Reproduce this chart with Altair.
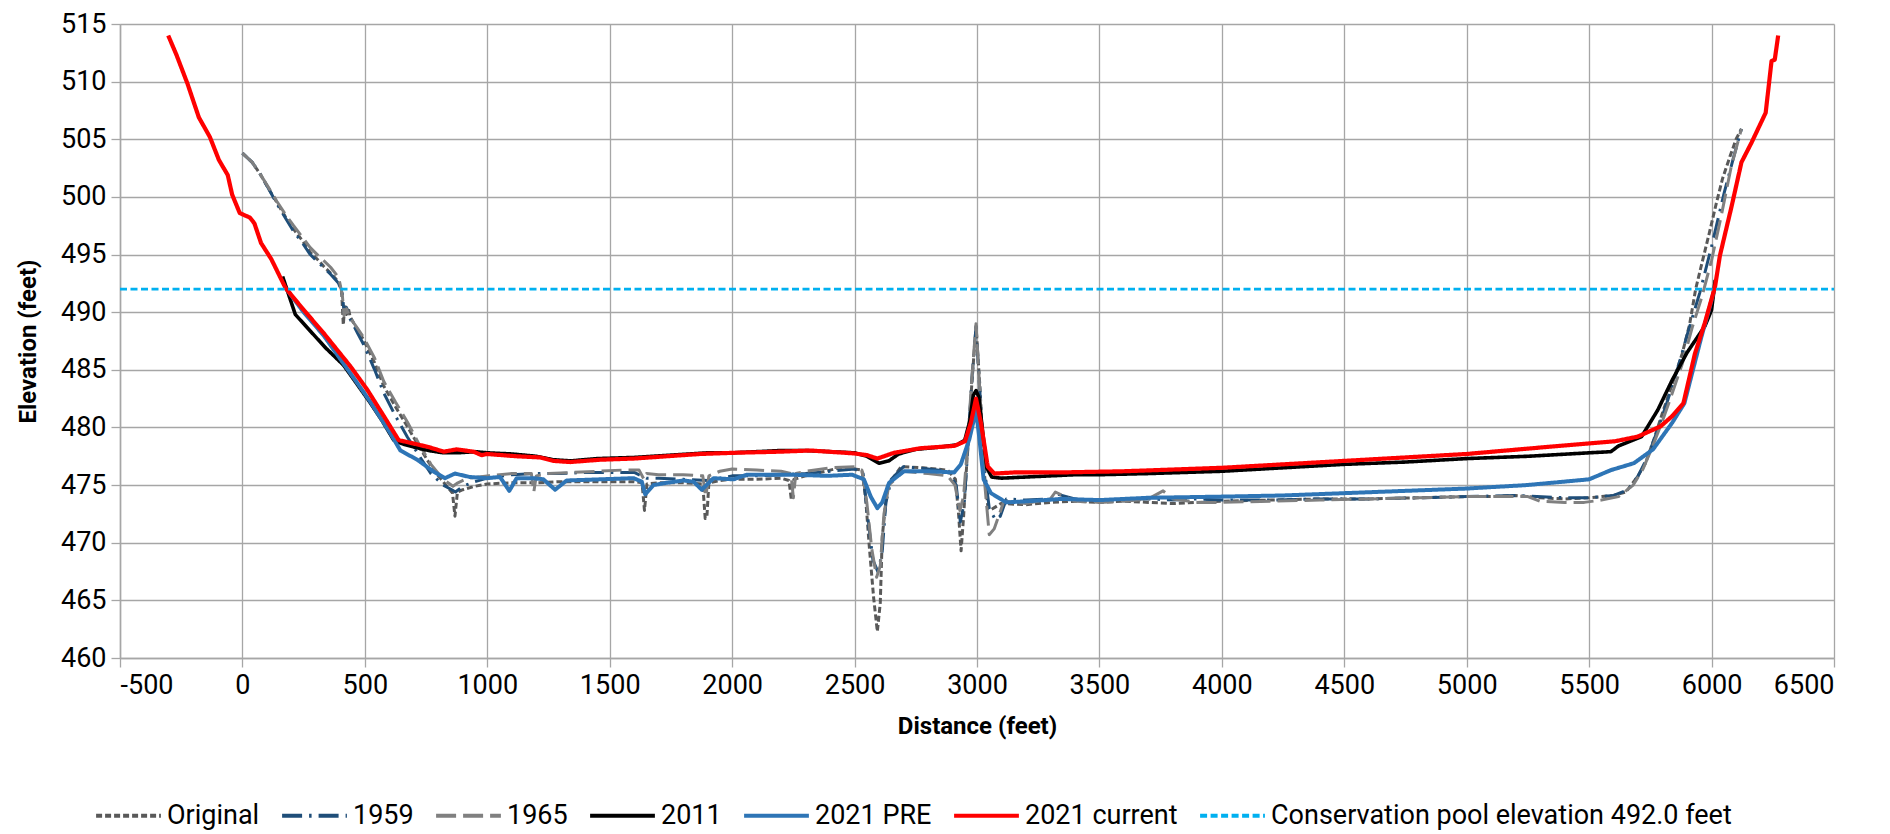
import altair as alt
import pandas as pd

FONT = "Roboto"

# Survey cross-section profiles: distance (feet) and elevation (feet)
orig_d = [0, 40, 72, 110, 141, 175, 209, 245, 277, 310, 331, 360, 393, 405, 412, 418, 425, 432, 440, 470,
          495, 540, 577, 625, 673, 720, 760, 800, 835, 858, 868, 878, 900, 950, 1000, 1100, 1200, 1300, 1400,
          1500, 1600, 1632, 1642, 1652, 1700, 1800, 1880, 1890, 1897, 1905, 1950, 2000, 2100, 2200, 2232,
          2242, 2252, 2300, 2400, 2440, 2500, 2530, 2545, 2560, 2578, 2593, 2605, 2613, 2634, 2690, 2780,
          2880, 2912, 2925, 2935, 2945, 2960, 2978, 2996, 3012, 3030, 3045, 3060, 3098, 3200, 3300, 3400,
          3500, 3600, 3700, 3800, 3900, 4000, 4200, 4400, 4600, 4800, 5000, 5100, 5200, 5300, 5400, 5500,
          5600, 5650, 5700, 5730, 5765, 5800, 5840, 5880, 5910, 5935, 5960, 5990, 6020, 6045, 6075, 6100, 6122]
orig_e = [503.8, 503.0, 502.0, 500.6, 499.5, 498.3, 497.2, 496.2, 495.2, 494.5, 494.0, 493.4, 492.6, 491.8,
          488.9, 490.6, 489.8, 490.4, 489.6, 488.5, 487.6, 485.6, 483.6, 481.8, 480.1, 478.4, 477.0, 475.8,
          474.9, 474.3, 472.3, 474.4, 474.6, 474.9, 475.1, 475.2, 475.2, 475.3, 475.3, 475.3, 475.3, 475.2,
          472.8, 475.1, 475.2, 475.2, 475.1, 472.1, 472.3, 475.2, 475.4, 475.5, 475.5, 475.6, 475.4, 473.7,
          475.5, 475.8, 476.3, 476.5, 476.4, 476.3, 473.9, 469.7, 465.2, 462.3, 464.8, 470.5, 474.9, 476.6,
          476.5, 476.3, 475.5, 472.4, 469.3, 472.2, 477.5, 483.5, 488.8, 483.5, 476.0, 473.0, 472.9, 473.4,
          473.3, 473.5, 473.6, 473.5, 473.6, 473.5, 473.4, 473.5, 473.6, 473.7, 473.8, 473.8, 473.9, 474.0,
          474.0, 474.1, 473.9, 473.8, 473.9, 474.1, 474.4, 475.8, 476.9, 479.0, 481.3, 483.8, 486.4, 488.9,
          492.0, 494.2, 496.8, 499.5, 501.6, 503.5, 505.0, 505.9]

y1959_d = [0, 40, 72, 110, 141, 175, 209, 245, 277, 310, 331, 360, 393, 408, 415, 425, 440, 470, 495, 540,
           577, 625, 673, 720, 770, 820, 855, 870, 900, 950, 1000, 1100, 1200, 1300, 1400, 1500, 1600, 1650,
           1700, 1800, 1900, 2000, 2100, 2200, 2300, 2400, 2500, 2535, 2555, 2575, 2595, 2612, 2628, 2650,
           2700, 2800, 2880, 2915, 2932, 2948, 2962, 2980, 2996, 3012, 3030, 3050, 3075, 3095, 3120, 3200,
           3300, 3330, 3400, 3500, 3600, 3700, 3800, 3900, 4000, 4200, 4400, 4600, 4800, 5000, 5200, 5400,
           5500, 5600, 5660, 5700, 5740, 5780, 5820, 5860, 5900, 5952, 6000, 6052, 6092, 6122]
y1959_e = [503.8, 503.0, 502.0, 500.6, 499.4, 498.2, 497.0, 496.0, 495.0, 494.3, 493.9, 493.3, 492.5, 491.6,
           490.0, 490.4, 489.4, 488.2, 487.2, 485.0, 483.0, 481.0, 479.2, 477.6, 476.0, 475.0, 474.6, 474.4,
           474.9, 475.3, 475.6, 475.9, 476.0, 476.0, 476.1, 476.1, 476.1, 475.6, 475.6, 475.5, 475.4, 475.8,
           475.8, 475.9, 476.0, 476.2, 476.4, 476.0, 472.0, 468.5, 467.5, 469.0, 473.5, 475.5, 476.6, 476.4,
           476.2, 475.0, 471.8, 473.5, 478.0, 484.5, 488.7, 483.0, 476.5, 473.0, 472.0, 472.3, 473.8, 473.7,
           473.8, 474.2, 473.8, 473.7, 473.8, 473.8, 473.7, 473.8, 473.7, 473.7, 473.8, 473.8, 473.9, 474.0,
           474.1, 473.9, 473.9, 474.1, 474.6, 475.8, 477.5, 479.8, 482.3, 485.0, 488.0, 491.7, 495.7, 500.4,
           503.6, 505.9]

y1965_d = [0, 40, 72, 110, 141, 175, 209, 245, 277, 310, 331, 360, 393, 408, 415, 425, 440, 470, 495, 540,
           577, 625, 673, 720, 770, 820, 860, 880, 920, 1000, 1100, 1180, 1190, 1200, 1250, 1350, 1450, 1550,
           1620, 1640, 1650, 1700, 1800, 1880, 1892, 1905, 1950, 2000, 2100, 2200, 2240, 2250, 2260, 2300,
           2400, 2500, 2530, 2550, 2570, 2590, 2605, 2620, 2640, 2700, 2800, 2880, 2910, 2930, 2945, 2960,
           2978, 2996, 3012, 3030, 3050, 3070, 3110, 3200, 3300, 3320, 3400, 3500, 3600, 3700, 3760, 3800,
           3900, 4000, 4200, 4400, 4600, 4800, 5000, 5200, 5250, 5300, 5400, 5480, 5550, 5620, 5680, 5720,
           5760, 5800, 5840, 5880, 5920, 5960, 6000, 6040, 6080, 6122]
y1965_e = [503.8, 503.0, 502.0, 500.7, 499.6, 498.5, 497.5, 496.5, 495.6, 494.9, 494.5, 493.9, 493.0, 491.5,
           489.7, 490.3, 489.5, 488.6, 487.8, 486.0, 484.0, 482.2, 480.5, 478.6, 476.8, 475.5, 474.9, 475.2,
           475.6, 475.8, 476.0, 476.0, 474.4, 475.8, 476.0, 476.1, 476.2, 476.3, 476.3, 475.5, 476.0, 475.9,
           475.9, 475.8, 474.0, 475.8, 476.2, 476.4, 476.3, 476.2, 476.0, 473.9, 476.0, 476.2, 476.5, 476.6,
           476.3, 473.5, 469.5, 467.0, 468.0, 472.5, 475.0, 476.2, 476.0, 475.8, 475.0, 472.8, 474.0, 478.0,
           484.0, 489.0, 483.0, 475.5, 470.7, 471.2, 473.6, 473.4, 473.8, 474.4, 473.6, 473.5, 473.6, 473.8,
           474.5, 473.8, 473.5, 473.5, 473.6, 473.7, 473.8, 473.9, 474.0, 474.0, 474.0, 473.6, 473.5, 473.5,
           473.7, 474.0, 475.0, 476.4, 478.4, 480.6, 483.0, 485.5, 488.6, 491.3, 494.5, 498.4, 502.6, 505.9]

y2011_d = [164, 216, 280, 340, 413, 460, 520, 570, 618, 650, 700, 760, 820, 880, 950, 1000, 1100, 1200, 1270,
           1340, 1450, 1600, 1750, 1900, 2000, 2100, 2200, 2300, 2400, 2500, 2550, 2600, 2640, 2680, 2750,
           2850, 2920, 2950, 2970, 2985, 2996, 3008, 3020, 3040, 3060, 3100, 3200, 3300, 3400, 3500, 3700,
           4000, 4250, 4500, 4750, 5000, 5250, 5500, 5589, 5620, 5714, 5780, 5839, 5900, 5973, 6000, 6015]
y2011_e = [493.1, 489.8, 488.3, 486.9, 485.4, 484.0, 482.2, 480.6, 478.9, 478.6, 478.3, 478.0, 477.8, 477.8,
           477.9, 477.8, 477.7, 477.5, 477.2, 477.1, 477.3, 477.4, 477.6, 477.8, 477.8, 477.9, 478.0, 478.0,
           477.9, 477.8, 477.5, 476.9, 477.1, 477.7, 478.1, 478.3, 478.5, 478.9, 480.5, 482.8, 483.2, 482.6,
           480.2, 476.5, 475.7, 475.6, 475.7, 475.8, 475.9, 475.9, 476.0, 476.2, 476.5, 476.8, 477.0, 477.3,
           477.5, 477.8, 477.9, 478.4, 479.2, 481.5, 484.1, 486.5, 488.8, 490.2, 492.8]

pre_d = [180, 250, 331, 441, 520, 604, 645, 714, 779, 827, 868, 929, 997, 1052, 1090, 1120, 1188, 1229, 1277,
         1324, 1461, 1597, 1631, 1645, 1679, 1733, 1801, 1842, 1876, 1924, 2006, 2060, 2197, 2251, 2388, 2490,
         2538, 2566, 2593, 2613, 2641, 2702, 2798, 2907, 2934, 2969, 2996, 3010, 3027, 3057, 3119, 3208, 3344,
         3500, 3700, 4000, 4250, 4500, 4750, 5000, 5245, 5500, 5589, 5683, 5761, 5839, 5889, 5959, 5993, 6014]
pre_e = [492.0, 490.0, 488.0, 484.7, 482.3, 479.5, 478.0, 477.2, 476.2, 475.6, 476.0, 475.7, 475.6, 475.7,
         474.5, 475.6, 475.6, 475.5, 474.6, 475.4, 475.5, 475.6, 475.3, 474.2, 475.0, 475.2, 475.4, 475.3,
         474.6, 475.6, 475.5, 475.9, 475.9, 475.9, 475.8, 475.9, 475.5, 474.0, 473.0, 473.5, 475.2, 476.2,
         476.2, 476.1, 476.8, 479.0, 481.5, 479.0, 475.5, 474.3, 473.5, 473.6, 473.8, 473.7, 473.9, 474.0,
         474.1, 474.3, 474.5, 474.7, 475.0, 475.5, 476.3, 476.9, 478.1, 480.4, 482.1, 487.9, 490.5, 492.2]

cur_d = [-303, -269, -224, -178, -133, -96, -60, -42, -11, 31, 49, 76, 118, 176, 250, 331, 441, 509, 577, 638,
         700, 760, 822, 875, 943, 977, 997, 1120, 1215, 1270, 1338, 1461, 1597, 1733, 1870, 2006, 2197, 2320,
         2497, 2550, 2593, 2661, 2770, 2907, 2951, 2975, 2996, 3016, 3044, 3071, 3153, 3344, 3600, 4000, 4500,
         5000, 5323, 5605, 5698, 5792, 5840, 5885, 5932, 5973, 6014, 6034, 6082, 6122, 6163, 6221, 6245, 6258,
         6272]
cur_e = [514.0, 512.3, 509.8, 506.9, 505.2, 503.2, 501.9, 500.2, 498.6, 498.2, 497.7, 496.0, 494.6, 492.1,
         490.2, 488.2, 485.3, 483.3, 481.0, 478.9, 478.6, 478.3, 477.9, 478.1, 477.9, 477.6, 477.7, 477.5,
         477.4, 477.1, 477.0, 477.2, 477.3, 477.5, 477.7, 477.8, 477.9, 478.0, 477.75, 477.6, 477.3, 477.8,
         478.2, 478.4, 478.8, 480.4, 482.5, 480.4, 476.6, 476.0, 476.1, 476.1, 476.2, 476.5, 477.1, 477.7,
         478.3, 478.8, 479.2, 480.1, 481.0, 482.1, 486.4, 489.1, 492.2, 494.9, 499.2, 503.0, 504.7, 507.3,
         511.8, 511.9, 514.0]

pool_d = [-500, 6500]
pool_e = [492.0, 492.0]

series_names = ["Original", "1959", "1965", "2011", "2021 PRE", "2021 current",
                "Conservation pool elevation 492.0 feet"]
series_colors = ["#595959", "#1F4E79", "#808080", "#000000", "#2E75B6", "#FF0000", "#00B0F0"]
series_dashes = [[6, 3], [20, 7, 2.5, 7], [20, 7], [1, 0], [1, 0], [1, 0], [7, 3.5]]
series_widths = [3.0, 3.0, 3.0, 3.6, 4.0, 4.2, 2.6]

profiles = [(orig_d, orig_e), (y1959_d, y1959_e), (y1965_d, y1965_e), (y2011_d, y2011_e),
            (pre_d, pre_e), (cur_d, cur_e), (pool_d, pool_e)]

rows = []
for name, (ds, es) in zip(series_names, profiles):
    for i, (d, e) in enumerate(zip(ds, es)):
        rows.append({"series": name, "d": d, "e": e, "i": i})
df = pd.DataFrame(rows)

grid_col = "#A6A6A6"
legend_kw = dict(
    title=None, orient="none", direction="horizontal", legendX=-26, legendY=757,
    symbolType="stroke", symbolSize=4200, symbolStrokeWidth=4, labelFont=FONT, labelFontSize=27,
    labelColor="#000000", labelOffset=4, columnPadding=14, labelLimit=800,
)

# hyphen-minus for negative tick labels
plain_label = "'' + datum.value"

x_enc = alt.X("d:Q", title="Distance (feet)",
              scale=alt.Scale(domain=[-500, 6500], nice=False, zero=False),
              axis=alt.Axis(values=list(range(-500, 6501, 500)), labelExpr=plain_label,
                            labelPadding=5, titlePadding=16))
y_enc = alt.Y("e:Q", title="Elevation (feet)",
              scale=alt.Scale(domain=[460, 515], nice=False, zero=False),
              axis=alt.Axis(values=list(range(460, 516, 5)), labelExpr=plain_label,
                            labelPadding=5, titlePadding=20))
color_enc = alt.Color("series:N", scale=alt.Scale(domain=series_names, range=series_colors),
                      legend=alt.Legend(**legend_kw))
dash_enc = alt.StrokeDash("series:N", scale=alt.Scale(domain=series_names, range=series_dashes),
                          legend=alt.Legend(**legend_kw))

layers = []
for name, w in zip(series_names, series_widths):
    layers.append(
        alt.Chart(df)
        .transform_filter(alt.datum.series == name)
        .mark_line(strokeWidth=w, strokeJoin="round", strokeCap="butt")
        .encode(x=x_enc, y=y_enc, color=color_enc, strokeDash=dash_enc,
                order=alt.Order("i:Q"))
    )

chart = (
    alt.layer(*layers)
    .properties(width=1714, height=634, background="white",
                autosize=alt.AutoSizeParams(type="none"),
                padding={"left": 120, "top": 24, "right": 56, "bottom": 176})
    .configure_view(stroke=None)
    .configure_axis(
        grid=True, gridColor=grid_col, gridWidth=1.3, domainColor=grid_col, domainWidth=1.5,
        tickColor=grid_col, tickSize=9, tickWidth=1.3,
        labelFont=FONT, labelFontSize=27, labelColor="#000000",
        titleFont=FONT, titleFontSize=24, titleFontWeight="bold", titleColor="#000000",
    )
)

chart.save("out.html", embed_options={"renderer": "svg", "actions": False})
